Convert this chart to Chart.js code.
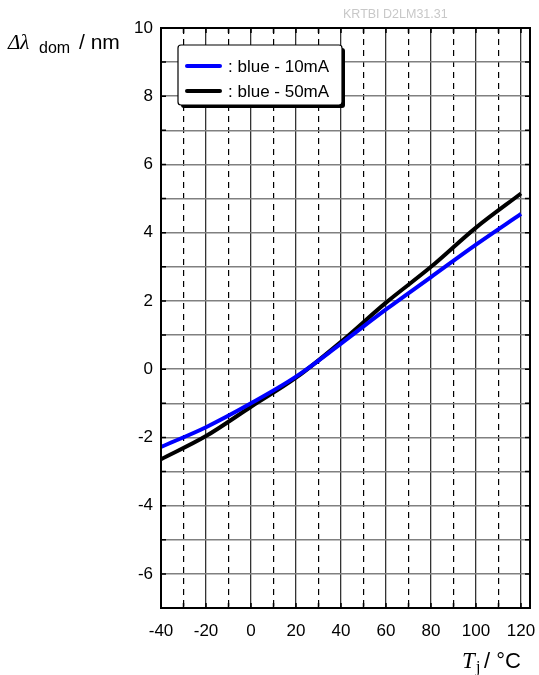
<!DOCTYPE html>
<html>
<head>
<meta charset="utf-8">
<script src="https://cdn.jsdelivr.net/npm/chart.js@4/dist/chart.umd.min.js"></script>
<style>
  html, body { margin: 0; padding: 0; background: #fff; }
  #wrap { position: relative; width: 539px; height: 675px; }
</style>
</head>
<body>
<div id="wrap"><canvas id="c" width="539" height="675"></canvas></div>
<script>
// dados
const temperaturas = [-40, -20, 0, 20, 40, 60, 80, 100, 120];
const azul10mA = [-2.28, -1.70, -1.00, -0.22, 0.75, 1.75, 2.70, 3.65, 4.55];
const azul50mA = [-2.64, -1.96, -1.10, -0.25, 0.80, 1.95, 3.00, 4.15, 5.15];
const xTicks = [-40, -20, 0, 20, 40, 60, 80, 100, 120];
const xTicksMenores = [-30, -10, 10, 30, 50, 70, 90, 110];
const yTicks = [-7, -6, -5, -4, -3, -2, -1, 0, 1, 2, 3, 4, 5, 6, 7, 8, 9, 10];
const rotulos = [': blue - 10mA', ': blue - 50mA'];

const fonte = 'Liberation Sans, Arial, sans-serif';
const serifa = '"Liberation Serif", "DejaVu Serif", serif';

// moldura, legenda e textos extras
const extras = {
  id: 'extras',
  afterDatasetsDraw(chart) {
    const ctx = chart.ctx;
    const a = chart.chartArea;
    const xs = chart.scales.x;
    const ys = chart.scales.y;
    ctx.save();
    // moldura
    ctx.strokeStyle = '#000';
    ctx.lineWidth = 2;
    ctx.strokeRect(a.left, a.top, a.right - a.left, a.bottom - a.top);
    // marcas pequenas
    ctx.lineWidth = 1.5;
    yTicks.forEach(v => {
      const py = ys.getPixelForValue(v);
      ctx.beginPath();
      ctx.moveTo(a.left, py); ctx.lineTo(a.left + 5, py);
      ctx.moveTo(a.right, py); ctx.lineTo(a.right - 5, py);
      ctx.stroke();
    });
    xTicks.concat(xTicksMenores).forEach(v => {
      const px = xs.getPixelForValue(v);
      ctx.beginPath();
      ctx.moveTo(px, a.top); ctx.lineTo(px, a.top + 5);
      ctx.moveTo(px, a.bottom); ctx.lineTo(px, a.bottom - 5);
      ctx.stroke();
    });

    // legenda com sombra
    const lx = 178, ly = 45, lw = 164, lh = 60;
    ctx.fillStyle = '#000';
    ctx.beginPath(); ctx.roundRect(lx + 3, ly + 3, lw, lh, 3); ctx.fill();
    ctx.fillStyle = '#fff';
    ctx.beginPath(); ctx.roundRect(lx, ly, lw, lh, 3); ctx.fill();
    ctx.lineWidth = 1.2;
    ctx.strokeStyle = '#000';
    ctx.stroke();
    ctx.font = '17px ' + fonte;
    ctx.textBaseline = 'middle';
    chart.data.datasets.forEach((ds, i) => {
      const yy = ly + 21 + i * 25;
      ctx.strokeStyle = ds.borderColor;
      ctx.lineWidth = 4;
      ctx.lineCap = 'round';
      ctx.beginPath(); ctx.moveTo(187, yy); ctx.lineTo(220, yy); ctx.stroke();
      ctx.fillStyle = '#000';
      ctx.fillText(rotulos[i], 228, yy + 1);
    });

    // marca d'água
    ctx.fillStyle = '#c8c8c8';
    ctx.font = '12.5px ' + fonte;
    ctx.textBaseline = 'alphabetic';
    ctx.fillText('KRTBI D2LM31.31', 343, 18);

    // título do eixo y
    ctx.fillStyle = '#000';
    ctx.font = 'italic 21px ' + serifa;
    ctx.fillText('\u0394\u03bb', 8, 49);
    ctx.font = '16px ' + fonte;
    ctx.fillText('dom', 39, 53);
    ctx.font = '21px ' + fonte;
    ctx.fillText('/ nm', 79, 49);

    // título do eixo x
    ctx.font = 'italic 23px ' + serifa;
    ctx.fillText('T', 462, 668);
    ctx.font = '16px ' + serifa;
    ctx.fillText('j', 476, 672);
    ctx.font = '22px ' + fonte;
    ctx.fillText('/ \u00b0C', 484, 668);
    ctx.restore();
  }
};

new Chart(document.getElementById('c'), {
  type: 'line',
  data: {
    labels: temperaturas,
    datasets: [
      {
        label: rotulos[0],
        data: temperaturas.map((t, i) => ({ x: t, y: azul10mA[i] })),
        borderColor: '#0000ff',
        borderWidth: 4,
        pointRadius: 0,
        cubicInterpolationMode: 'monotone',
        fill: false
      },
      {
        label: rotulos[1],
        data: temperaturas.map((t, i) => ({ x: t, y: azul50mA[i] })),
        borderColor: '#000000',
        borderWidth: 4,
        pointRadius: 0,
        cubicInterpolationMode: 'monotone',
        fill: false
      }
    ]
  },
  options: {
    responsive: false,
    animation: false,
    layout: { padding: { left: 0, top: 28, right: 9, bottom: 0 } },
    plugins: { legend: { display: false }, tooltip: { enabled: false } },
    scales: {
      x: {
        type: 'linear',
        min: -40,
        max: 124,
        afterBuildTicks: s => { s.ticks = xTicks.map(v => ({ value: v })); },
        afterFit: s => { s.height = 67; s.paddingLeft = 0; s.paddingRight = 0; },
        ticks: {
          color: '#000',
          font: { size: 17, family: fonte },
          padding: 13,
          maxRotation: 0,
          autoSkip: false
        },
        grid: { color: '#333', lineWidth: 1.3, drawTicks: false },
        border: { display: false }
      },
      x2: {
        type: 'linear',
        position: 'bottom',
        min: -40,
        max: 124,
        afterBuildTicks: s => { s.ticks = xTicksMenores.map(v => ({ value: v })); },
        afterFit: s => { s.height = 0; s.paddingLeft = 0; s.paddingRight = 0; },
        ticks: { display: false },
        grid: { color: '#000', lineWidth: 1.2, drawTicks: false },
        border: { display: false, dash: [6, 5] }
      },
      y: {
        min: -7,
        max: 10,
        afterBuildTicks: s => { s.ticks = yTicks.map(v => ({ value: v })); },
        afterFit: s => { s.width = 161; s.paddingTop = 0; s.paddingBottom = 0; },
        ticks: {
          color: '#000',
          font: { size: 17, family: fonte },
          padding: 8,
          autoSkip: false,
          callback: v => (v % 2 === 0 ? String(v) : '')
        },
        grid: { color: '#808080', lineWidth: 1.5, drawTicks: false },
        border: { display: false }
      }
    }
  },
  plugins: [extras]
});
</script>
</body>
</html>
